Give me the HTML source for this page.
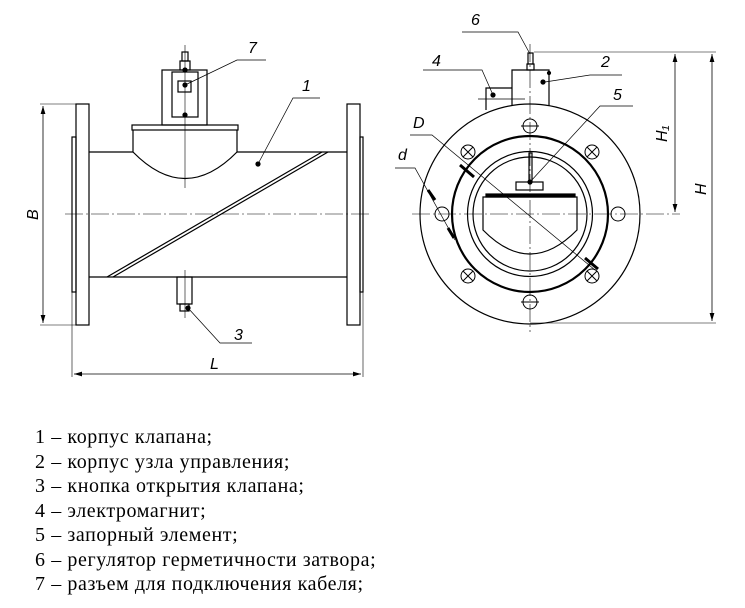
<!DOCTYPE html><html><head><meta charset="utf-8"><style>
body{margin:0;background:#fff;width:745px;height:608px;overflow:hidden;position:relative}
svg{position:absolute;left:0;top:0}
.t{position:absolute;left:35px;font-family:"Liberation Serif",serif;font-size:20px;letter-spacing:0.6px;color:#000;line-height:24.5px;top:425px;white-space:nowrap}
</style></head><body>
<svg width="745" height="400" viewBox="0 0 745 400" fill="none" stroke="#000" stroke-width="1.2" font-family="Liberation Sans,sans-serif" font-style="italic">
<defs><marker id="a" markerWidth="10" markerHeight="6" refX="10" refY="3" orient="auto-start-reverse"><path d="M0,0L10,3L0,6z" fill="#000" stroke="none"/></marker></defs>
<rect x="76" y="104" width="13" height="221"/><rect x="72" y="137" width="4" height="155"/>
<rect x="347" y="104" width="13" height="221"/><rect x="360" y="137" width="3" height="155"/>
<line x1="89" y1="152" x2="133" y2="152"/><line x1="237" y1="152" x2="347" y2="152"/>
<line x1="89" y1="277" x2="347" y2="277"/>
<rect x="132" y="125" width="106" height="5"/>
<path d="M133,130V152Q185,205 237,152V130"/>
<rect x="162" y="70" width="45" height="55"/><rect x="172" y="72" width="26" height="45"/><rect x="178" y="81" width="13" height="11"/>
<rect x="180" y="61" width="10" height="9"/><rect x="182" y="52" width="6" height="9"/>
<line x1="185" y1="45" x2="185" y2="188" stroke-width=".6"/>
<path d="M107,277L322,152M113,277L328,152" />
<rect x="177" y="277" width="15" height="27"/><rect x="180" y="304" width="9" height="7"/>
<line x1="185" y1="270" x2="185" y2="318" stroke-width=".6"/>
<line x1="65" y1="214" x2="372" y2="214" stroke-width=".6" stroke-dasharray="18 3 2 3"/>
<line x1="43" y1="106" x2="43" y2="323" marker-start="url(#a)" marker-end="url(#a)" stroke-width=".8"/>
<line x1="40" y1="104" x2="76" y2="104" stroke-width=".6"/><line x1="40" y1="325" x2="76" y2="325" stroke-width=".6"/>
<line x1="74" y1="374" x2="361" y2="374" marker-start="url(#a)" marker-end="url(#a)" stroke-width=".8"/>
<line x1="72" y1="292" x2="72" y2="377" stroke-width=".6"/><line x1="363" y1="292" x2="363" y2="377" stroke-width=".6"/>
<g stroke-width=".7"><path d="M185,85L237,60H266"/><path d="M258,164L293,98H320"/><path d="M188,308L220,343H252"/></g>
<g fill="#000"><circle cx="185" cy="85" r="2"/><circle cx="258" cy="164" r="2"/><circle cx="188" cy="308" r="2"/><circle cx="185" cy="70" r="2"/><circle cx="185" cy="115" r="2"/></g>
<g fill="#000" stroke="none" font-size="16"><text x="248" y="53">7</text><text x="302" y="91">1</text><text x="234" y="340">3</text><text x="210" y="369">L</text><text transform="translate(38,220) rotate(-90)">B</text></g>
<circle cx="530" cy="214" r="110"/><circle cx="530" cy="214" r="78" stroke-width="2.2"/><circle cx="530" cy="214" r="62.5"/><circle cx="530" cy="214" r="57"/>
<g stroke-width="1"><circle cx="618" cy="214" r="7"/><circle cx="442" cy="214" r="7"/><circle cx="530" cy="126" r="7"/><circle cx="530" cy="302" r="7"/>
<line x1="521" y1="126" x2="539" y2="126"/><line x1="521" y1="302" x2="539" y2="302"/>
<circle cx="592" cy="152" r="7"/><circle cx="468" cy="152" r="7"/><circle cx="468" cy="276" r="7"/><circle cx="592" cy="276" r="7"/>
<path d="M587,147l10,10m0,-10l-10,10M463,147l10,10m0,-10l-10,10M463,271l10,10m0,-10l-10,10M587,271l10,10m0,-10l-10,10"/></g>
<path d="M483,197V230Q530,278 577,230V197Z"/><rect x="486" y="194" width="89" height="3" fill="#000"/>
<rect x="516" y="182" width="27" height="8"/><rect x="529" y="153" width="3" height="29"/>
<path d="M486,110V88H512M512,105V70H549V106"/><rect x="527" y="64" width="7" height="6"/><rect x="528" y="53" width="5" height="11"/>
<line x1="478" y1="99" x2="525" y2="99" stroke-width=".7"/>
<line x1="530" y1="44" x2="530" y2="332" stroke-width=".6" stroke-dasharray="18 3 2 3"/>
<line x1="412" y1="214" x2="680" y2="214" stroke-width=".6" stroke-dasharray="18 3 2 3"/>
<line x1="534" y1="52" x2="716" y2="52" stroke-width=".6"/><line x1="530" y1="323" x2="716" y2="323" stroke-width=".6"/>
<line x1="675" y1="54" x2="675" y2="212" marker-start="url(#a)" marker-end="url(#a)" stroke-width=".8"/>
<line x1="712" y1="54" x2="712" y2="321" marker-start="url(#a)" marker-end="url(#a)" stroke-width=".8"/>
<g stroke-width=".7"><path d="M462,32H518L530,54"/><path d="M423,70H482L493,95"/><path d="M545,82L590,75H622"/><path d="M633,106H600L530,182"/><path d="M410,135H432L595,270"/><path d="M395,168H415L455,240"/></g>
<path d="M460,165l14,12M585,258l13,11M428,190l7,10M448,228l6,10" stroke-width="3"/>
<g fill="#000"><circle cx="493" cy="95" r="2"/><circle cx="543" cy="82" r="2"/><circle cx="530" cy="182" r="2"/><circle cx="549" cy="73" r="1.5"/></g>
<g fill="#000" stroke="none" font-size="16"><text x="471" y="25">6</text><text x="432" y="66">4</text><text x="601" y="67">2</text><text x="613" y="100">5</text><text x="413" y="128">D</text><text x="398" y="160">d</text><text transform="translate(667,142) rotate(-90)">H₁</text><text transform="translate(706,195) rotate(-90)">H</text></g>
</svg>
<div class="t">1 – корпус клапана;<br>2 – корпус узла управления;<br>3 – кнопка открытия клапана;<br>4 – электромагнит;<br>5 – запорный элемент;<br>6 – регулятор герметичности затвора;<br>7 – разъем для подключения кабеля;</div>
</body></html>
